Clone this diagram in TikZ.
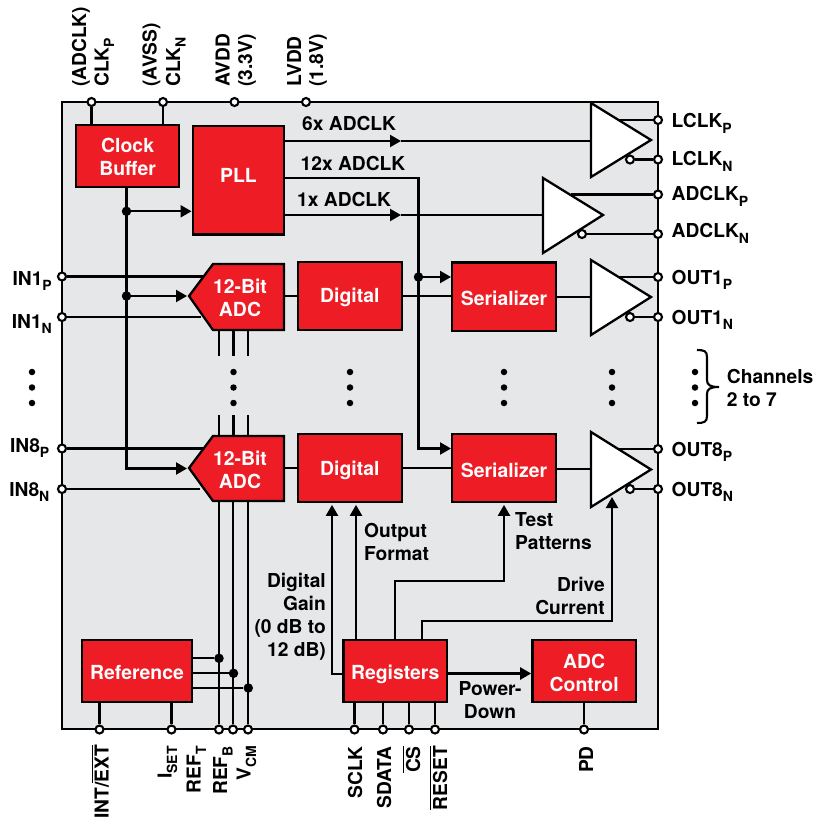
\documentclass[tikz,border=0pt]{standalone}
\usepackage{fontspec}
\setmainfont{TeX Gyre Heros}
\usetikzlibrary{arrows.meta}
\definecolor{frameg}{HTML}{E6E7E8}
\definecolor{adired}{HTML}{EE1C25}
\newcommand{\sbx}[1]{\raisebox{-5.5pt}{\fontsize{14}{14}\selectfont #1}}
\newcommand{\ovl}[1]{\leavevmode\vbox{\hrule height 1.1pt \kern 1.6pt\hbox{#1}}}
\newcommand{\shft}[2]{\raisebox{-#1pt}[0pt][0pt]{#2}}
\tikzset{
  x=1pt,y=-1pt,
  wire/.style={line width=2.2pt,draw=black},
  arr/.style={wire,-{Triangle[length=11pt,width=12pt]}},
  block/.style={draw=black,line width=2.3pt,fill=adired,text=white,inner sep=0pt,align=center,
     font=\fontsize{19.4}{23}\selectfont\bfseries},
  adctext/.style={text=white,inner sep=0pt,align=center,font=\fontsize{19.4}{23}\selectfont\bfseries},
  poly/.style={draw=black,line width=2.3pt,fill=adired,line join=miter},
  buf/.style={draw=black,line width=2.3pt,fill=white,line join=miter},
  pinn/.style={circle,draw=black,line width=2.1pt,fill=white,inner sep=0pt,minimum size=8pt},
  bubble/.style={circle,draw=black,line width=2.1pt,fill=white,inner sep=0pt,minimum size=8pt},
  jdot/.style={circle,fill=black,inner sep=0pt,minimum size=9.5pt},
  edot/.style={circle,fill=black,inner sep=0pt,minimum size=6.5pt},
  lbl/.style={inner sep=0pt,text=black,align=left,font=\fontsize{19.2}{23}\selectfont\bfseries},
  up/.style={lbl,rotate=90,anchor=base west},
  dn/.style={lbl,rotate=90,anchor=base east},
}
\begin{document}
\begin{tikzpicture}
\useasboundingbox (0,0) rectangle (822,820);
% frame
\node[draw=black,line width=2.4pt,fill=frameg,minimum width=596pt,minimum height=627pt,inner sep=0pt] (frame) at (360,415.5) {};
% triangles
\draw[buf] (591,103) -- (651,140) -- (591,177) -- cycle;
\draw[buf] (543,178) -- (603,215) -- (543,253) -- cycle;
\draw[buf] (591,260) -- (651,297) -- (591,335) -- cycle;
\draw[buf] (591,432) -- (651,469.5) -- (591,507) -- cycle;
\coordinate (lin) at (591,141);
\coordinate (ain) at (543,215);
\coordinate (o1in) at (591,297);
\coordinate (o8in) at (591,469);
\coordinate (lpo) at (619,120);
\coordinate (apo) at (571,194.5);
\coordinate (o1po) at (619,277);
\coordinate (o8po) at (619,449);
% ADC polygons
\draw[poly] (189,296) -- (213,264) -- (284,264) -- (284,330) -- (213,330) -- cycle;
\draw[poly] (189,468) -- (213,436) -- (284,436) -- (284,501) -- (213,501) -- cycle;
\node[adctext,minimum width=95pt,minimum height=66pt] (adc1) at (236.5,297) {\hspace*{7pt}\shft{7.8}{12-Bit}\\\hspace*{7pt}\shft{7.8}{ADC}};
\node[adctext,minimum width=95pt,minimum height=65pt] (adc8) at (236.5,468.5) {\hspace*{7pt}\shft{8}{12-Bit}\\\hspace*{7pt}\shft{8}{ADC}};
% blocks
\node[block,minimum width=103.3pt,minimum height=62pt] (cbuf) at (127.6,155.7) {\shft{8.1}{Clock}\\\shft{8.1}{Buffer}};
\node[block,minimum width=91.6pt,minimum height=108.3pt] (pll) at (238.5,180.2) {\shft{2.5}{PLL}};
\node[block,minimum width=103.7pt,minimum height=68.3pt] (dig1) at (349.8,295.9) {\shft{7}{Digital}};
\node[block,minimum width=103.7pt,minimum height=67.4pt] (dig8) at (349.8,468) {\shft{7}{Digital}};
\node[block,minimum width=103.7pt,minimum height=68.3pt] (ser1) at (504,296.5) {\shft{8.5}{Serializer}};
\node[block,minimum width=103.7pt,minimum height=67.4pt] (ser8) at (504,468) {\shft{9.3}{Serializer}};
\node[block,minimum width=109.4pt,minimum height=61.7pt] (ref) at (137,670.8) {\shft{8.5}{Reference}};
\node[block,minimum width=103.7pt,minimum height=61.7pt] (reg) at (395.2,670.8) {\shft{8.5}{Registers}};
\node[block,minimum width=103.7pt,minimum height=61.7pt] (actl) at (584.2,670.8) {\shft{9.2}{ADC}\\\shft{9.2}{Control}};
% pins
\node[pinn] (pa) at (91.5,102) {};
\node[pinn] (pb) at (163,102) {};
\node[pinn] (pc) at (234.5,102) {};
\node[pinn] (pd) at (306,102) {};
\node[pinn] (i1p) at (62,276.5) {};
\node[pinn] (i1n) at (62,317) {};
\node[pinn] (i8p) at (62,448.5) {};
\node[pinn] (i8n) at (62,489) {};
\node[pinn] (rlp) at (658,120) {};
\node[pinn] (rln) at (658,159.5) {};
\node[pinn] (rap) at (658,194.5) {};
\node[pinn] (ran) at (658,234) {};
\node[pinn] (ro1p) at (658,277) {};
\node[pinn] (ro1n) at (658,317) {};
\node[pinn] (ro8p) at (658,449) {};
\node[pinn] (ro8n) at (658,489) {};
\node[pinn] (bint) at (99.5,729.5) {};
\node[pinn] (bset) at (171.5,729.5) {};
\node[pinn] (breft) at (219,729.5) {};
\node[pinn] (brefb) at (233,729.5) {};
\node[pinn] (bvcm) at (248,729.5) {};
\node[pinn] (bsclk) at (354.5,729.5) {};
\node[pinn] (bsdata) at (383,729.5) {};
\node[pinn] (bcs) at (409,729.5) {};
\node[pinn] (brst) at (435,729.5) {};
\node[pinn] (bpd) at (584,729.5) {};
% bubbles
\node[bubble] (bl) at (630,159.5) {};
\node[bubble] (ba) at (582,234) {};
\node[bubble] (bo1) at (630,317) {};
\node[bubble] (bo8) at (630,489) {};
% junctions
\node[jdot] (j1) at (126.5,211.3) {};
\node[jdot] (j2) at (126.5,296) {};
\node[jdot] (j3) at (418.5,277) {};
\node[jdot] (jt) at (219,658.3) {};
\node[jdot] (jb) at (233.5,673.3) {};
\node[jdot] (jv) at (248.3,688) {};
% wires: top
\draw[wire] (pa) -- (pa |- cbuf.north);
\draw[wire] (pb) -- (pb |- cbuf.north);
% clock bus
\coordinate (bus) at (126.5,187);
\coordinate (adc8tip) at (187,468.5);
\draw[arr] (bus) |- (adc8tip);
\draw[arr] (j1) -- (pll.west |- j1);
\coordinate (adc1tip) at (187,296);
\draw[arr] (j2) -- (adc1tip);
% PLL outputs
\coordinate (m6) at (401,141);
\coordinate (m1) at (401,215);
\coordinate (p6) at (284,141);
\coordinate (p1) at (284,215);
\coordinate (p12) at (284,178);
\coordinate (c12) at (418.5,178);
\draw[arr] (p6) -- (m6);
\draw[wire] (m6) -- (lin);
\draw[arr] (p1) -- (m1);
\draw[wire] (m1) -- (ain);
\draw[arr] (p12) -- (c12) |- (ser8.west |- i8p);
\draw[arr] (j3) -- (ser1.west |- j3);
% inputs
\coordinate (e1p) at (203.5,276.5);
\coordinate (e1n) at (201,317);
\coordinate (e8p) at (203.5,448.5);
\coordinate (e8n) at (200,489);
\draw[wire] (i1p) -- (e1p);
\draw[wire] (i1n) -- (e1n);
\draw[wire] (i8p) -- (e8p);
\draw[wire] (i8n) -- (e8n);
% chain
\draw[wire] (adc1.east |- dig1.west) -- (dig1.west);
\draw[wire] (adc8.east |- dig8.west) -- (dig8.west);
\draw[wire] (dig1.east) -- (ser1.west |- dig1.east);
\draw[wire] (dig8.east) -- (ser8.west |- dig8.east);
\draw[wire] (ser1.east |- o1in) -- (o1in);
\draw[wire] (ser8.east |- o8in) -- (o8in);
% outputs
\draw[wire] (lpo) -- (rlp);
\draw[wire] (apo) -- (rap);
\draw[wire] (o1po) -- (ro1p);
\draw[wire] (o8po) -- (ro8p);
\draw[wire] (bl) -- (rln);
\draw[wire] (ba) -- (ran);
\draw[wire] (bo1) -- (ro1n);
\draw[wire] (bo8) -- (ro8n);
% ADC stubs and buses
\coordinate (s1) at (219,356);
\coordinate (s2) at (233.5,356);
\coordinate (s3) at (248.3,356);
\coordinate (u1) at (219,415);
\coordinate (u2) at (233.5,415);
\coordinate (u3) at (248.3,415);
\draw[wire] (s1 |- adc1.south) -- (s1);
\draw[wire] (s2 |- adc1.south) -- (s2);
\draw[wire] (s3 |- adc1.south) -- (s3);
\draw[wire] (u1) -- (u1 |- adc8.north);
\draw[wire] (u2) -- (u2 |- adc8.north);
\draw[wire] (u3) -- (u3 |- adc8.north);
\draw[wire] (breft |- adc8.south) -- (breft);
\draw[wire] (brefb |- adc8.south) -- (brefb);
\draw[wire] (bvcm |- adc8.south) -- (bvcm);
\draw[wire] (ref.east |- jt) -- (jt);
\draw[wire] (ref.east |- jb) -- (jb);
\draw[wire] (ref.east |- jv) -- (jv);
\draw[wire] (bint |- ref.south) -- (bint);
\draw[wire] (bset |- ref.south) -- (bset);
\draw[wire] (bsclk |- reg.south) -- (bsclk);
\draw[wire] (bsdata |- reg.south) -- (bsdata);
\draw[wire] (bcs |- reg.south) -- (bcs);
\draw[wire] (brst |- reg.south) -- (brst);
\draw[wire] (bpd |- actl.south) -- (bpd);
% registers
\coordinate (dg) at (332,674);
\coordinate (of) at (356,640);
\coordinate (tp) at (394.7,581);
\coordinate (dc) at (422,621);
\coordinate (dctip) at (612,497);
\coordinate (pdy) at (447,673.5);
\draw[arr,shorten >=2pt] (reg.west |- dg) -- (dg) -- (dg |- dig8.south);
\draw[arr,shorten >=2pt] (of) -- (of |- dig8.south);
\draw[arr,shorten >=2pt] (reg.north -| tp) -- (tp) -| (ser8.south);
\draw[arr] (reg.north -| dc) -- (dc) -| (dctip);
\draw[arr] (pdy) -- (actl.west |- pdy);
% ellipsis dots
\foreach \x/\n in {32/a,233.5/b,350/c,504/d,612/e,695/f}
  \foreach \y/\m in {372/a,387.5/b,403/c}
    \node[edot] (e\n\m) at (\x,\y) {};
% brace
\draw[line width=2.1pt] (697,350) .. controls (704,350) and (707,351) .. (707,357) -- (707,380) .. controls (707,385) and (710,387) .. (719,387) .. controls (710,387) and (707,389) .. (707,394) -- (707,416) .. controls (707,422) and (704,423) .. (697,423);
% top labels
\node[up] (la1) at (86,87) {(ADCLK)};
\node[up] (la2) at (108.5,87) {CLK\sbx{P}};
\node[up] (lb1) at (156.5,87) {(AVSS)};
\node[up] (lb2) at (180,87) {CLK\sbx{N}};
\node[up] (lc1) at (229.5,87) {AVDD};
\node[up] (lc2) at (252,87) {(3.3V)};
\node[up] (ld1) at (301,87) {LVDD};
\node[up] (ld2) at (323,87) {(1.8V)};
% left labels
\node[lbl,anchor=base east] (l1) at (52,285) {IN1\sbx{P}};
\node[lbl,anchor=base east] (l2) at (52,328) {IN1\sbx{N}};
\node[lbl,anchor=base east] (l3) at (49.5,452) {IN8\sbx{P}};
\node[lbl,anchor=base east] (l4) at (49.5,496) {IN8\sbx{N}};
% right labels
\node[lbl,anchor=base west] (r1) at (671.5,127.7) {LCLK\sbx{P}};
\node[lbl,anchor=base west] (r2) at (671.5,165.7) {LCLK\sbx{N}};
\node[lbl,anchor=base west] (r3) at (671.5,200.7) {ADCLK\sbx{P}};
\node[lbl,anchor=base west] (r4) at (671.5,237.7) {ADCLK\sbx{N}};
\node[lbl,anchor=base west] (r5) at (671.5,284) {OUT1\sbx{P}};
\node[lbl,anchor=base west] (r6) at (671.5,324) {OUT1\sbx{N}};
\node[lbl,anchor=base west] (r7) at (671.5,456) {OUT8\sbx{P}};
\node[lbl,anchor=base west] (r8) at (671.5,496) {OUT8\sbx{N}};
% inner labels
\node[lbl,anchor=base west] (t6) at (302,130.7) {6x ADCLK};
\node[lbl,anchor=base west] (t12) at (300.5,170.7) {12x ADCLK};
\node[lbl,anchor=base west] (t1) at (297,206) {1x ADCLK};
\node[lbl,anchor=north west] (tch) at (726.7,369) {Channels\\2 to 7};
\node[lbl,anchor=north east,align=right] (tdg) at (326,572.5) {Digital\\Gain\\(0 dB to\\12 dB)};
\node[lbl,anchor=north west] (tof) at (364,523) {Output\\Format};
\node[lbl,anchor=north west] (ttp) at (515,512.5) {Test\\Patterns};
\node[lbl,anchor=north east,align=right] (tdc) at (605,576.5) {Drive\\Current};
\node[lbl,anchor=north,align=center] (tpd) at (490,681.5) {Power-\\Down};
% bottom labels
\node[dn] (b1) at (108.5,745) {INT/\ovl{EXT}};
\node[dn] (b2) at (171.5,746) {I\sbx{SET}};
\node[dn] (b3) at (200.7,746) {REF\sbx{T}};
\node[dn] (b4) at (227,746) {REF\sbx{B}};
\node[dn] (b5) at (250.7,746) {V\sbx{CM}};
\node[dn] (b6) at (362,746) {SCLK};
\node[dn] (b7) at (391,746) {SDATA};
\node[dn] (b8) at (420,746) {\ovl{CS}};
\node[dn] (b9) at (447,746) {\ovl{RESET}};
\node[dn] (b10) at (593,746) {PD};
\end{tikzpicture}
\end{document}
